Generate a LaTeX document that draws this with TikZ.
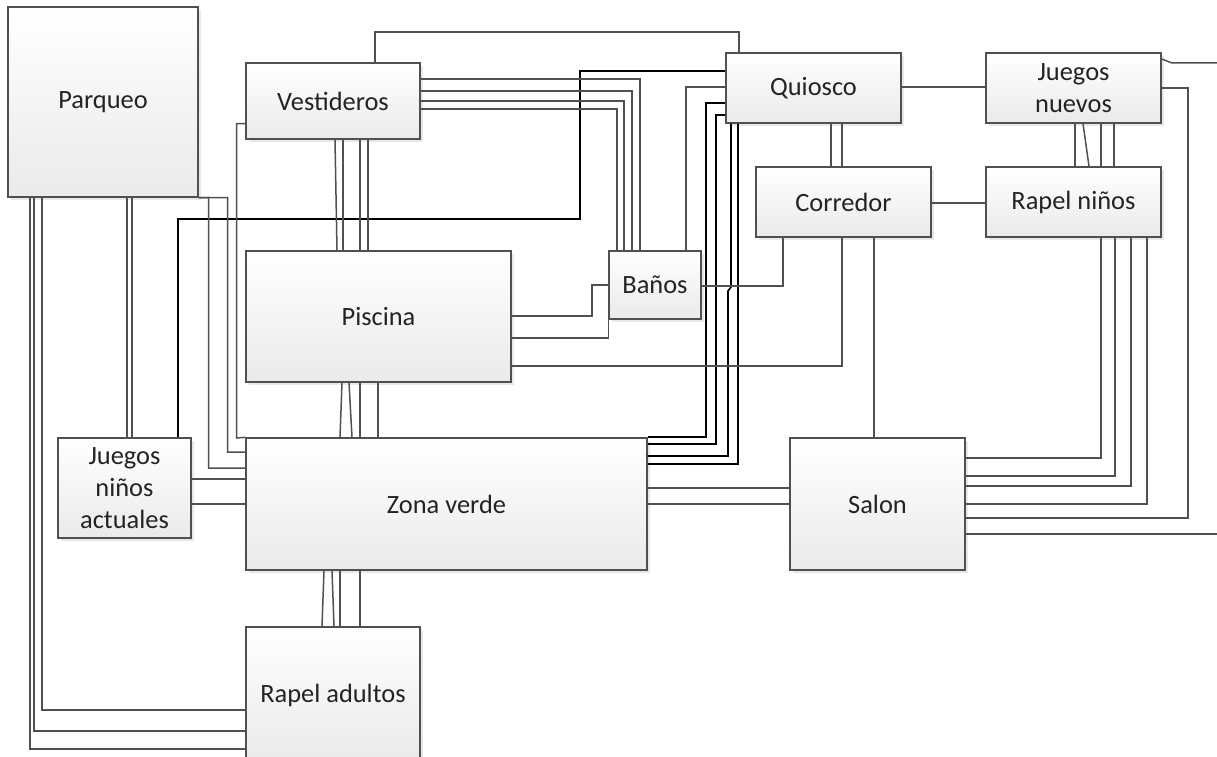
\documentclass[tikz,border=0pt]{standalone}
\usepackage{fontspec}
\setmainfont{Carlito}
\usetikzlibrary{shadows}
\definecolor{lgray}{RGB}{80,80,80}
\definecolor{boxbot}{RGB}{234,234,234}
\definecolor{txt}{RGB}{35,35,35}
\begin{document}
\begin{tikzpicture}[x=1bp,y=-1bp,
  box/.style={draw=lgray, line width=1.4bp, top color=white, bottom color=boxbot,
    drop shadow={shadow xshift=3bp, shadow yshift=-3bp, fill=black!9, opacity=1},
    font=\fontsize{26.5}{32}\selectfont, text=txt, align=center, inner sep=0bp},
  con/.style={draw=lgray, line width=1.5bp},
  bcon/.style={draw=black, line width=1.6bp}]
\useasboundingbox[fill=white] (0,0) rectangle (1217,757);

% boxes
\node[box, minimum width=190bp, minimum height=190bp] (park) at (103,102) {Parqueo};
\node[box, minimum width=174bp, minimum height=76bp] (vest) at (333,101) {Vestideros};
\node[box, minimum width=175bp, minimum height=70bp] (quio) at (813.5,88) {Quiosco};
\node[box, minimum width=175bp, minimum height=70bp] (jnue) at (1073.5,88) {Juegos\\nuevos};
\node[box, minimum width=175bp, minimum height=70bp] (corr) at (843.5,202) {Corredor};
\node[box, minimum width=175bp, minimum height=70bp] (rnin) at (1073.5,202) {Rapel niños};
\node[box, minimum width=265bp, minimum height=131bp] (pisc) at (378.5,316.5) {Piscina};
\node[box, minimum width=92bp, minimum height=68bp] (banos) at (655,285) {Baños};
\node[box, minimum width=401bp, minimum height=132bp] (zona) at (446.5,504) {Zona verde};
\node[box, minimum width=175bp, minimum height=132bp] (salon) at (877.5,504) {Salon};
\node[box, minimum width=133bp, minimum height=100bp] (jnin) at (124.5,488) {Juegos\\niños\\actuales};
\node[box, minimum width=174bp, minimum height=136bp] (rapa) at (333,695) {Rapel adultos};

\coordinate (offA) at (1217,63);
\coordinate (offB) at (1217,534);

% connectors
\draw[con] (vest.north -| 375,0) -- (375,32) -- (739,32) -- (quio.north -| 739,0);
\draw[bcon] (jnin.north -| 178,0) -- (178,219) -- (580,219) -- (580,71) -- (quio.west |- 0,71);

\draw[con] (park.south -| 30,0) |- (rapa.west |- 0,749);
\draw[con] (park.south -| 34,0) |- (rapa.west |- 0,731);
\draw[con] (park.south -| 42,0) |- (rapa.west |- 0,710);
\draw[con] (park.south -| 127,0) -- (jnin.north -| 127,0);
\draw[con] (park.south -| 132,0) -- (jnin.north -| 132,0);
\draw[con] (park.south east) -- (227.5,197.5) |- (zona.west |- 0,452);
\draw[con] (park.south east) -- (208.5,197.5) |- (zona.west |- 0,468);
\draw[con] (vest.west |- 0,123.5) -| (236.5,438) -- (zona.north west);
\draw[con] (jnin.east |- 0,479) -- (zona.west |- 0,479);
\draw[con] (jnin.east |- 0,504) -- (zona.west |- 0,504);

\draw[con] (vest.south -| 335,0) -- (pisc.north -| 337,0);
\draw[con] (vest.south -| 343,0) -- (pisc.north -| 343,0);
\draw[con] (vest.south -| 360,0) -- (pisc.north -| 360,0);
\draw[con] (vest.south -| 368,0) -- (pisc.north -| 368,0);

\draw[con] (vest.east |- 0,79) -| (banos.north -| 640,0);
\draw[con] (vest.east |- 0,91) -| (banos.north -| 632,0);
\draw[con] (vest.east |- 0,101) -| (banos.north -| 624,0);
\draw[con] (vest.east |- 0,109) -| (banos.north -| 617,0);
\draw[con] (quio.west |- 0,87) -| (banos.north -| 686,0);

\draw[bcon] (quio.west |- 0,103) -| (706,437) -- (zona.east |- 0,437);
\draw[bcon] (quio.west |- 0,115) -| (716,444) -- (zona.east |- 0,444);
\draw[bcon] (quio.south -| 731,0) -- (731,287) -- (728,291) |- (zona.east |- 0,456);
\draw[bcon] (quio.south -| 738,0) |- (zona.east |- 0,464);

\draw[con] (quio.south -| 831,0) -- (corr.north -| 831,0);
\draw[con] (quio.south -| 842,0) -- (corr.north -| 842,0);
\draw[con] (quio.east |- 0,87) -- (jnue.west |- 0,87);
\draw[con] (corr.east |- 0,203) -- (rnin.west |- 0,203);

\draw[con] (jnue.south -| 1075,0) -- (rnin.north -| 1075,0);
\draw[con] (jnue.south -| 1083,0) -- (rnin.north -| 1089,0);
\draw[con] (jnue.south -| 1101,0) -- (rnin.north -| 1101,0);
\draw[con] (jnue.south -| 1114,0) -- (rnin.north -| 1114,0);

\draw[con] (banos.east |- 0,286) -| (corr.south -| 783,0);
\draw[con] (pisc.east |- 0,366) -| (corr.south -| 842,0);
\draw[con] (corr.south -| 874,0) -- (salon.north -| 874,0);
\draw[con] (pisc.east |- 0,316) -| (592,285) -- (banos.west |- 0,285);
\draw[con] (pisc.east |- 0,338) -| (banos.south west);

\draw[con] (pisc.south -| 342,0) -- (zona.north -| 340,0);
\draw[con] (pisc.south -| 349,0) -- (zona.north -| 352,0);
\draw[con] (pisc.south -| 360,0) -- (zona.north -| 360,0);
\draw[con] (pisc.south -| 378,0) -- (zona.north -| 378,0);

\draw[con] (zona.south -| 324,0) -- (rapa.north -| 322,0);
\draw[con] (zona.south -| 332,0) -- (rapa.north -| 334,0);
\draw[con] (zona.south -| 340,0) -- (rapa.north -| 340,0);
\draw[con] (zona.south -| 360,0) -- (rapa.north -| 360,0);

\draw[con] (zona.east |- 0,488) -- (salon.west |- 0,488);
\draw[con] (zona.east |- 0,504) -- (salon.west |- 0,504);

\draw[con] (rnin.south -| 1101,0) |- (salon.east |- 0,458);
\draw[con] (rnin.south -| 1115,0) |- (salon.east |- 0,476);
\draw[con] (rnin.south -| 1131,0) |- (salon.east |- 0,486);
\draw[con] (rnin.south -| 1147,0) |- (salon.east |- 0,504);
\draw[con] (jnue.east |- 0,88) -| (1188,518) -- (salon.east |- 0,518);
\draw[con] (jnue.east |- 0,59) -- (1172,63) -- (offA);
\draw[con] (salon.east |- 0,534) -- (offB);
\end{tikzpicture}
\end{document}
